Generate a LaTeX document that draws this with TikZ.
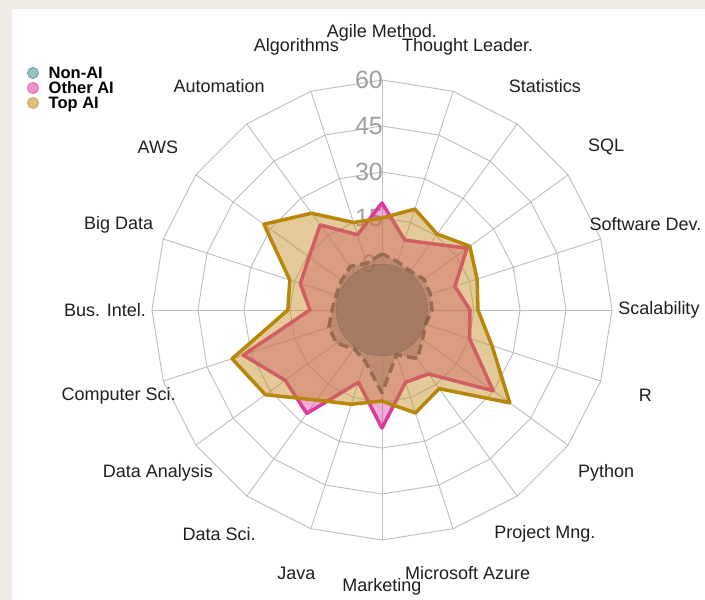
\documentclass[tikz,border=0pt]{standalone}
\usepackage{fontspec}
\setmainfont{Liberation Sans}
\definecolor{pagebg}{HTML}{EEECE4}
\definecolor{gridgray}{HTML}{BDBDBD}
\definecolor{nonai}{HTML}{3E8E92}
\definecolor{otherai}{HTML}{DB3C9C}
\definecolor{topai}{HTML}{C48A1E}
\definecolor{topline}{HTML}{B8860B}

\begin{document}
\begin{tikzpicture}[x=1pt, y=1pt,
	grid/.style={draw=gridgray, line width=0.9pt},
	axis label/.style={font=\fontsize{18}{18}\selectfont, text=black!88},
	ring label/.style={font=\fontsize{25}{25}\selectfont, text=gray!75, inner sep=0pt},
	series/.style={line width=3.5pt, line join=round},
	key/.style={circle, minimum size=11pt, inner sep=0pt, line width=1pt},
	key text/.style={font=\bfseries\fontsize{16.5}{15}\selectfont, anchor=west, inner sep=0pt, text height=11.5pt, text depth=0pt}]
	
	\useasboundingbox (-382,-290) rectangle (323,310);
	\fill[pagebg] (-382,-290) rectangle (323,310);
	\fill[white] (-370,-290) rectangle (323,301);
	
	% grid rings, spokes and ring values
	\foreach \r in {92,138,184,230}
		\draw[grid] (90:\r) \foreach \a in {108,126,...,432} {-- (\a:\r)} -- cycle;
	\foreach \a in {0,18,...,342}
		\draw[grid] (\a:46) -- (\a:230);
	\foreach \v [count=\i from 0] in {0,15,30,45,60}
		\node[ring label] (ring\v) at (-13,{46+46*\i}) {\v};
	
	% series values, from the top axis anticlockwise
	\foreach \v [count=\i from 0] in {3.3,1,2.6,1.3,0.7,1.3,3.2,3.4,0.6,2.6,12,0.3,4.6,1.3,0,1.3,1.6,2,0.7,1.5}
		\coordinate (non\i) at ({90+18*\i}:{46+\v*46/15});
	\foreach \v [count=\i from 0] in {19.9,10.8,19.3,14.4,13,8.5,32.6,24,26.7,9.8,23.5,9.8,10.8,29.8,15,13.7,10,19.3,11.8,9}
		\coordinate (other\i) at ({90+18*\i}:{46+\v*46/15});
	\foreach \v [count=\i from 0] in {15,15,24,32.6,16.6,15.7,36.4,32,21.3,17.3,14.7,20.3,16.7,36.5,22.7,16.3,17.6,20.4,15.6,19.6}
		\coordinate (top\i) at ({90+18*\i}:{46+\v*46/15});
	
	\filldraw[series, draw=nonai!70!black, fill=nonai, fill opacity=0.45, dash pattern=on 10pt off 5pt]
		(non0) \foreach \i in {1,...,19} {-- (non\i)} -- cycle;
	\filldraw[series, draw=otherai, fill=otherai, fill opacity=0.42]
		(other0) \foreach \i in {1,...,19} {-- (other\i)} -- cycle;
	\filldraw[series, draw=topline, fill=topai, fill opacity=0.45]
		(top0) \foreach \i in {1,...,19} {-- (top\i)} -- cycle;
	\filldraw[draw=black, draw opacity=0.15, fill=black, fill opacity=0.12] (0,0) circle (46);
	
	% axis names
	\foreach \name [count=\i from 0] in {Agile Method., Algorithms, Automation, AWS, Big Data, Bus. Intel., Computer Sci., Data Analysis, Data Sci., Java, Marketing, Microsoft Azure, Project Mng., Python, R, Scalability, Software Dev., SQL, Statistics, Thought Leader.}
		\node[axis label] (axis\i) at ({90+18*\i}:277) {\name};
	
	% legend
	\foreach \name/\col [count=\i from 0] in {Non-AI/nonai, Other AI/otherai, Top AI/topai} {
		\node[key, fill=\col!55, draw=\col!75] (key\i) at (-349,{237-15*\i}) {};
		\node[key text] (keytext\i) at ([xshift=9.5pt]key\i.east) {\name};
	}
\end{tikzpicture}
\end{document}
